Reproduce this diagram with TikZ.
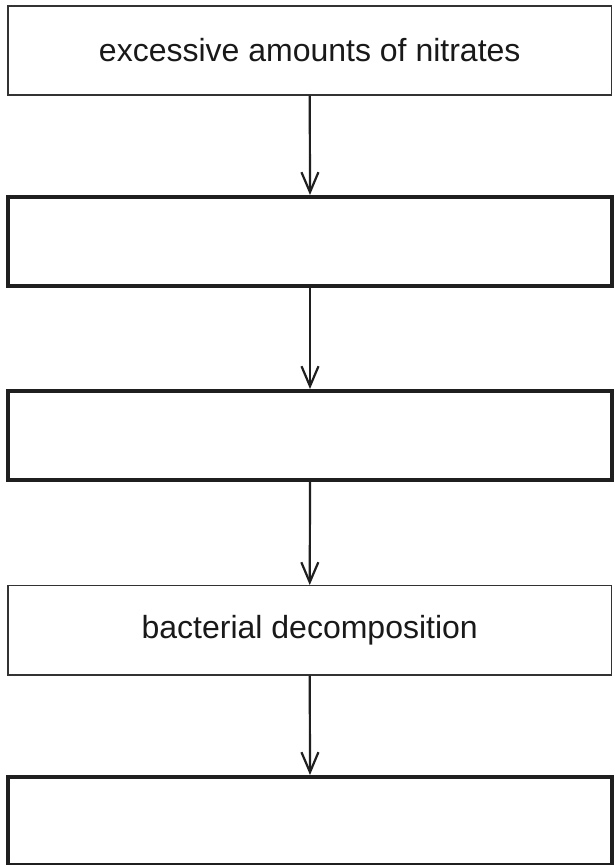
\documentclass[tikz,border=0pt]{standalone}
\usepackage{fontspec}
\setmainfont{Liberation Sans}
\usetikzlibrary{arrows.meta}
\begin{document}
\begin{tikzpicture}[x=1pt,y=-1pt,
  thinbox/.style={draw=black!80, line width=1.3pt, fill=white, inner sep=0pt,
    minimum width=603.5pt, minimum height=89pt, font=\fontsize{32}{38}\selectfont, text=black!90},
  thickbox/.style={draw=black!88, line width=4pt, fill=white, inner sep=0pt,
    minimum width=604pt, minimum height=89pt},
  flow/.style={draw=black!88, line width=2.2pt, -{Straight Barb[length=20pt,width=17pt,line width=2.2pt]}}]
\useasboundingbox[fill=white] (0,0) rectangle (614,865);
\node[thinbox] (b1) at (309.75,50.5) {excessive amounts of nitrates};
\node[thickbox] (b2) at (310,241.5) {};
\node[thickbox] (b3) at (310,435.5) {};
\node[thinbox, minimum height=89.3pt] (b4) at (309.75,630.35) {bacterial decomposition};
\node[thickbox, minimum height=88pt] (b5) at (310,821) {};
\draw[flow] (b1.south) -- (b2.north);
\draw[flow] (b2.south) -- (b3.north);
\draw[flow] (b3.south) -- (b4.north);
\draw[flow] (b4.south) -- (b5.north);
\end{tikzpicture}
\end{document}
